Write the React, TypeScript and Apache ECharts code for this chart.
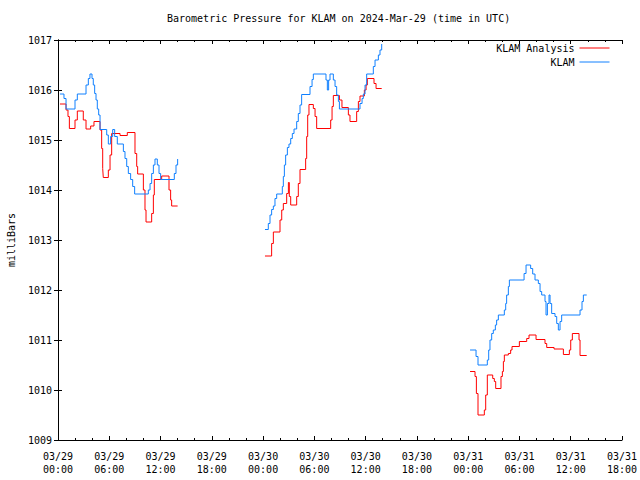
import React, { useEffect, useRef } from "react";
import * as echarts from "echarts";

// hours since 2024-03-29 00:00 UTC, value in millibars
const analysisSeg1: [number, number][] = [
  [0.23, 1015.72], [0.94, 1015.6], [1.17, 1015.47], [1.33, 1015.23], [1.99, 1015.4], [2.26, 1015.58],
  [2.96, 1015.4], [3.28, 1015.22], [3.82, 1015.28], [4.21, 1015.37], [4.92, 1015.2], [5.11, 1014.83],
  [5.23, 1014.43], [5.3, 1014.25], [5.89, 1014.4], [6.09, 1014.7], [6.28, 1015.13], [7.26, 1015.09],
  [8.11, 1015.15], [9.01, 1014.73], [9.21, 1014.47], [9.32, 1014.32], [9.99, 1014.0], [10.18, 1013.6],
  [10.3, 1013.36], [10.96, 1013.53], [11.16, 1013.9], [11.27, 1014.21], [12.13, 1014.28], [12.99, 1014.0],
  [13.18, 1013.8], [13.3, 1013.68], [14.0, 1013.68],
];
const analysisSeg2: [number, number][] = [
  [24.22, 1012.68], [25.0, 1012.93], [25.2, 1013.16], [25.98, 1013.4], [26.18, 1013.6], [26.37, 1013.73],
  [26.76, 1013.93], [26.96, 1014.15], [27.07, 1013.87], [27.23, 1013.7], [27.93, 1013.87], [28.12, 1014.13],
  [28.32, 1014.41], [28.98, 1014.63], [29.1, 1015.07], [29.22, 1015.5], [29.37, 1015.71], [29.88, 1015.63],
  [30.08, 1015.47], [30.27, 1015.23], [31.91, 1015.4], [32.07, 1015.67], [32.22, 1015.89], [32.93, 1015.8],
  [33.23, 1015.65], [33.98, 1015.5], [34.17, 1015.37], [34.95, 1015.57], [35.15, 1015.77], [35.34, 1015.88],
  [35.85, 1016.0], [36.05, 1016.1], [36.2, 1016.23], [36.98, 1016.13], [37.22, 1016.03], [37.88, 1016.03],
];
const analysisSeg3: [number, number][] = [
  [48.22, 1010.37], [48.8, 1010.27], [48.96, 1009.93], [49.15, 1009.5], [49.89, 1009.6], [50.05, 1009.9],
  [50.24, 1010.3], [50.87, 1010.23], [51.06, 1010.17], [51.22, 1010.03], [51.84, 1010.27], [52.0, 1010.37],
  [52.12, 1010.57], [52.23, 1010.7], [52.7, 1010.73], [52.97, 1010.8], [53.13, 1010.87], [53.99, 1010.97],
  [54.85, 1011.03], [55.12, 1011.1], [55.94, 1011.01], [56.99, 1010.93], [57.19, 1010.85], [58.05, 1010.82],
  [59.14, 1010.71], [59.84, 1010.8], [60.0, 1011.0], [60.19, 1011.13], [60.97, 1011.0], [61.09, 1010.69],
  [61.87, 1010.69],
];

const obsSeg1: [number, number][] = [
  [0.23, 1015.92], [0.7, 1015.83], [0.94, 1015.62], [1.99, 1015.8], [2.26, 1015.92], [3.28, 1016.1],
  [3.55, 1016.23], [3.74, 1016.32], [3.98, 1016.23], [4.13, 1016.1], [4.29, 1015.93], [4.45, 1015.8],
  [4.6, 1015.62], [4.76, 1015.5], [4.92, 1015.21], [5.7, 1015.1], [5.89, 1014.92], [6.16, 1015.07],
  [6.4, 1015.21], [6.63, 1015.07], [6.94, 1014.92], [7.65, 1014.77], [7.84, 1014.63], [8.04, 1014.47],
  [8.23, 1014.33], [8.5, 1014.21], [8.74, 1014.07], [8.97, 1013.92], [10.57, 1014.0], [10.77, 1014.13],
  [10.96, 1014.33], [11.16, 1014.5], [11.35, 1014.62], [11.62, 1014.5], [11.82, 1014.33], [12.01, 1014.21],
  [13.61, 1014.33], [13.81, 1014.5], [14.0, 1014.62], [14.05, 1014.62],
];
const obsSeg2: [number, number][] = [
  [24.22, 1013.21], [24.61, 1013.33], [24.81, 1013.5], [25.0, 1013.61], [25.2, 1013.68], [25.39, 1013.83],
  [25.59, 1013.92], [26.25, 1014.07], [26.37, 1014.27], [26.49, 1014.5], [26.64, 1014.7], [26.84, 1014.85],
  [27.03, 1014.92], [27.23, 1015.03], [27.42, 1015.13], [27.62, 1015.22], [27.93, 1015.37], [28.12, 1015.53],
  [28.32, 1015.7], [28.51, 1015.91], [29.49, 1016.07], [29.73, 1016.21], [29.88, 1016.32], [31.36, 1016.2],
  [31.52, 1016.0], [31.67, 1016.2], [31.83, 1016.32], [32.22, 1016.2], [32.42, 1016.07], [32.61, 1015.9],
  [32.81, 1015.77], [32.93, 1015.62], [35.34, 1015.73], [35.58, 1015.83], [35.73, 1015.92], [35.93, 1016.1],
  [36.12, 1016.32], [36.9, 1016.47], [37.1, 1016.6], [37.49, 1016.7], [37.68, 1016.8], [37.88, 1016.92],
  [37.95, 1016.92],
];
const obsSeg3: [number, number][] = [
  [48.22, 1010.8], [48.92, 1010.67], [49.15, 1010.5], [50.24, 1010.6], [50.4, 1010.8], [50.55, 1011.0],
  [50.75, 1011.13], [50.94, 1011.2], [51.18, 1011.3], [51.33, 1011.4], [51.53, 1011.5], [52.23, 1011.6],
  [52.39, 1011.73], [52.5, 1011.9], [52.7, 1012.07], [52.82, 1012.2], [54.54, 1012.33], [54.77, 1012.5],
  [55.31, 1012.43], [55.55, 1012.32], [55.82, 1012.2], [56.21, 1012.13], [56.41, 1011.97], [56.6, 1011.9],
  [56.99, 1011.77], [57.11, 1011.5], [57.27, 1011.73], [57.46, 1011.9], [57.58, 1011.73], [57.77, 1011.53],
  [58.16, 1011.47], [58.36, 1011.33], [58.55, 1011.2], [58.75, 1011.37], [58.94, 1011.5], [61.09, 1011.6],
  [61.32, 1011.77], [61.48, 1011.9], [61.87, 1011.9],
];

const xTickLabels = [
  "03/29\n00:00", "03/29\n06:00", "03/29\n12:00", "03/29\n18:00",
  "03/30\n00:00", "03/30\n06:00", "03/30\n12:00", "03/30\n18:00",
  "03/31\n00:00", "03/31\n06:00", "03/31\n12:00", "03/31\n18:00",
];

const joinSegments = (segs: [number, number][][]) => {
  const out: any[] = [];
  segs.forEach((s, i) => {
    s.forEach((p) => out.push(p));
    if (i < segs.length - 1) out.push([s[s.length - 1][0] + 0.01, "-"]);
  });
  return out;
};

const FONT = "DejaVu Sans Mono";

export default function App() {
  const ref = useRef<HTMLDivElement>(null);
  useEffect(() => {
    if (!ref.current) return;
    const chart = echarts.init(ref.current, undefined, { renderer: "svg" });
    const axisCommon = {
      type: "value" as const,
      axisLine: { show: true, lineStyle: { color: "#000", width: 1 } },
      splitLine: { show: false },
    };
    const legendCommon = {
      right: 30,
      align: "right",
      itemWidth: 30,
      itemHeight: 10,
      itemGap: 0,
      padding: 0,
      itemStyle: { opacity: 0, borderWidth: 0 },
      lineStyle: { width: 1 },
      textStyle: { fontFamily: FONT, fontSize: 10, color: "#000" },
    };
    chart.setOption({
      animation: false,
      backgroundColor: "#fff",
      title: {
        text: "Barometric Pressure for KLAM on 2024-Mar-29 (time in UTC)",
        left: 167,
        top: 13,
        padding: 0,
        textStyle: { fontFamily: FONT, fontSize: 10, fontWeight: "normal", color: "#000" },
      },
      legend: [
        { ...legendCommon, data: ["KLAM Analysis"], top: 43 },
        { ...legendCommon, data: ["KLAM"], top: 57 },
      ],
      grid: {
        left: 58,
        right: 18,
        top: 40,
        bottom: 40,
        containLabel: false,
        outerBoundsMode: "none",
      },
      xAxis: [
        {
          ...axisCommon,
          position: "bottom",
          min: 0,
          max: 66,
          interval: 6,
          axisTick: { show: true, inside: true, length: 4, lineStyle: { color: "#000" } },
          minorTick: { show: true, splitNumber: 3, length: 2, lineStyle: { color: "#000" } },
          axisLabel: {
            show: true,
            showMinLabel: true,
            showMaxLabel: true,
            hideOverlap: false,
            margin: 10,
            fontFamily: FONT,
            fontSize: 10,
            lineHeight: 13,
            color: "#000",
            formatter: (v: number) => xTickLabels[Math.round(v / 6)] ?? "",
          },
        },
        {
          ...axisCommon,
          position: "top",
          min: 0,
          max: 66,
          interval: 6,
          axisTick: { show: true, inside: true, length: 4, lineStyle: { color: "#000" } },
          minorTick: { show: true, splitNumber: 3, length: 2, lineStyle: { color: "#000" } },
          axisLabel: { show: false },
        },
      ],
      yAxis: [
        {
          ...axisCommon,
          position: "left",
          min: 1009,
          max: 1017,
          interval: 1,
          name: "milliBars",
          nameLocation: "middle",
          nameRotate: 90,
          nameGap: 42,
          nameTextStyle: { fontFamily: FONT, fontSize: 10, color: "#000" },
          axisTick: { show: true, inside: true, length: 4, lineStyle: { color: "#000" } },
          axisLabel: {
            show: true,
            margin: 6,
            fontFamily: FONT,
            fontSize: 10,
            color: "#000",
            formatter: (v: number) => String(v),
          },
        },
        {
          ...axisCommon,
          position: "right",
          min: 1009,
          max: 1017,
          interval: 1,
          axisTick: { show: true, inside: true, length: 4, lineStyle: { color: "#000" } },
          axisLabel: { show: false },
        },
      ],
      series: [
        {
          name: "KLAM Analysis",
          type: "line",
          step: "end",
          symbol: "none",
          connectNulls: false,
          lineStyle: { color: "#ff0000", width: 1 },
          itemStyle: { color: "#ff0000" },
          data: joinSegments([analysisSeg1, analysisSeg2, analysisSeg3]),
        },
        {
          name: "KLAM",
          type: "line",
          step: "end",
          symbol: "none",
          connectNulls: false,
          lineStyle: { color: "#1080ff", width: 1 },
          itemStyle: { color: "#1080ff" },
          data: joinSegments([obsSeg1, obsSeg2, obsSeg3]),
        },
      ],
    });
    return () => chart.dispose();
  }, []);
  return (
    <div
      ref={ref}
      style={{ position: "fixed", left: 0, top: 0, width: 640, height: 480, background: "#fff" }}
    />
  );
}
